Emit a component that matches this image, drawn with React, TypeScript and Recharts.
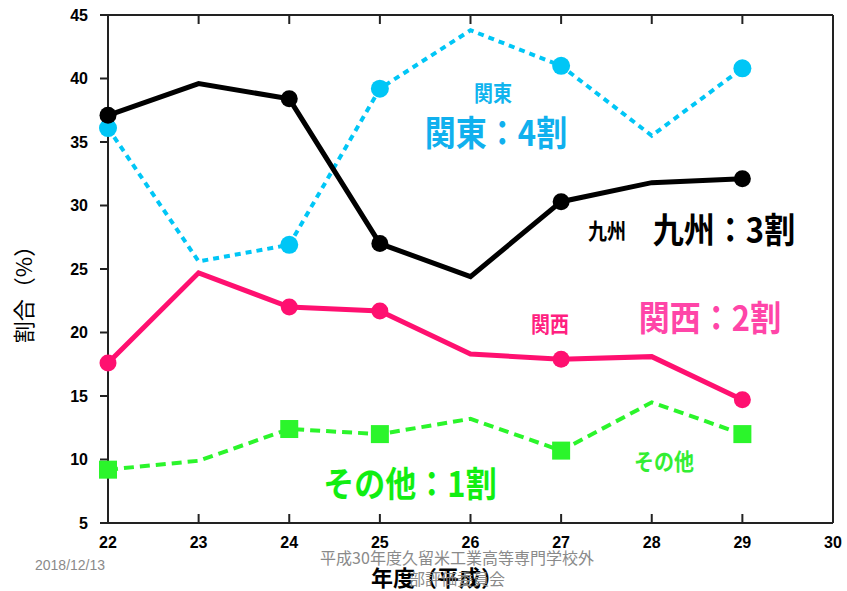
import { LineChart, Line, XAxis, YAxis } from 'recharts';

const years = [22, 23, 24, 25, 26, 27, 28, 29];
const kyushu = [37.1, 39.6, 38.4, 27.0, 24.4, 30.3, 31.8, 32.1];
const kanto = [36.1, 25.6, 26.9, 39.2, 43.8, 41.0, 35.5, 40.8];
const kansai = [17.6, 24.7, 22.0, 21.7, 18.3, 17.9, 18.1, 14.7];
const others = [9.2, 9.9, 12.4, 12.0, 13.2, 10.7, 14.5, 12.0];

// years that carry a marker on every series
const markedYears = [22, 24, 25, 27, 29];
const xTicks = [22, 23, 24, 25, 26, 27, 28, 29, 30];
const yTicks = [5, 10, 15, 20, 25, 30, 35, 40, 45];

const data = years.map((year, i) => ({
  year,
  kyushu: kyushu[i],
  kanto: kanto[i],
  kansai: kansai[i],
  others: others[i],
}));

const tickFont = { fontFamily: '"Liberation Sans", Arial, sans-serif', fontSize: 16, fontWeight: 700, fill: '#000' };
const jp = '"Noto Sans CJK JP", "Noto Sans", sans-serif';
const frame = { stroke: '#222', strokeWidth: 2 };
// tick marks without labels for the frame axes
const noLabel = () => <g />;

const circleDot = (color: string, r: number) => (props: any) => {
  const { cx, cy, payload, index } = props;
  if (!markedYears.includes(payload.year)) return <g key={`d${index}`} />;
  return <circle key={`d${index}`} cx={cx} cy={cy} r={r} fill={color} stroke="none" />;
};

const squareDot = (color: string, s: number) => (props: any) => {
  const { cx, cy, payload, index } = props;
  if (!markedYears.includes(payload.year)) return <g key={`s${index}`} />;
  return <rect key={`s${index}`} x={cx - s / 2} y={cy - s / 2} width={s} height={s} fill={color} />;
};

// annotation centred on (cx, cy), drawn slightly taller than wide
const note = (text: string, cx: number, cy: number, size: number, color: string) => (
  <div
    style={{
      position: 'absolute',
      left: cx,
      top: cy,
      transform: 'translate(-50%, -50%) scaleY(1.14)',
      fontFamily: jp,
      fontSize: size,
      fontWeight: 700,
      color,
      whiteSpace: 'nowrap',
      lineHeight: 1,
    }}
  >
    {text}
  </div>
);

export default function App() {
  return (
    <div style={{ position: 'absolute', left: 0, top: 0, width: 847, height: 591, background: '#fff', overflow: 'hidden' }}>
      <LineChart width={847} height={591} data={data} margin={{ top: 15, right: 14, bottom: 38, left: 0 }}>
        <XAxis
          dataKey="year"
          type="number"
          domain={[22, 30]}
          ticks={xTicks}
          height={30}
          tickLine={false}
          tickSize={6}
          tickMargin={8}
          axisLine={frame}
          tick={tickFont}
        />
        {/* inward ticks along the bottom edge */}
        <XAxis
          xAxisId="bottomInner"
          dataKey="year"
          type="number"
          domain={[22, 30]}
          ticks={xTicks}
          orientation="bottom"
          mirror
          height={1}
          tick={noLabel}
          tickSize={9}
          axisLine={false}
          tickLine={frame}
        />
        <XAxis
          xAxisId="top"
          dataKey="year"
          type="number"
          domain={[22, 30]}
          ticks={xTicks}
          orientation="top"
          mirror
          height={1}
          tick={noLabel}
          tickSize={9}
          axisLine={frame}
          tickLine={frame}
        />
        <YAxis
          type="number"
          domain={[5, 45]}
          ticks={yTicks}
          width={108}
          tickSize={8}
          tickMargin={12}
          axisLine={frame}
          tickLine={frame}
          tick={tickFont}
        />
        <YAxis
          yAxisId="right"
          type="number"
          domain={[5, 45]}
          ticks={yTicks}
          orientation="right"
          mirror
          width={1}
          tick={noLabel}
          tickSize={9}
          axisLine={frame}
          tickLine={frame}
        />
        <Line
          dataKey="kanto"
          stroke="#00C6F6"
          strokeWidth={4}
          strokeDasharray="6 5"
          dot={circleDot('#00C6F6', 9)}
          activeDot={false}
          isAnimationActive={false}
        />
        <Line
          dataKey="kyushu"
          stroke="#000"
          strokeWidth={5}
          dot={circleDot('#000', 8.5)}
          activeDot={false}
          isAnimationActive={false}
        />
        <Line
          dataKey="kansai"
          stroke="#FF1070"
          strokeWidth={5}
          dot={circleDot('#FF1070', 8.5)}
          activeDot={false}
          isAnimationActive={false}
        />
        <Line
          dataKey="others"
          stroke="#2BF52B"
          strokeWidth={4}
          strokeDasharray="10 6"
          dot={squareDot('#2BF52B', 18)}
          activeDot={false}
          isAnimationActive={false}
        />
      </LineChart>

      {note('関東', 493, 91, 19, '#10B4EE')}
      {note('関東：4割', 496, 131, 31, '#10B0EE')}
      {note('九州', 607, 229, 19, '#000')}
      {note('九州：3割', 724, 228, 31, '#000')}
      {note('関西', 550, 322, 19, '#FF2080')}
      {note('関西：2割', 710, 316, 31, '#FF45A8')}
      {note('その他', 664, 461, 20, '#33EE33')}
      {note('その他：1割', 410, 482, 31, '#11EE11')}

      {/* y axis title */}
      <div
        style={{
          position: 'absolute',
          left: 22,
          top: 289,
          transform: 'translate(-50%, -50%) rotate(-90deg)',
          fontFamily: jp,
          fontSize: 22,
          lineHeight: 1,
          color: '#000',
          whiteSpace: 'nowrap',
        }}
      >
        割合（%）
      </div>

      <div style={{ position: 'absolute', left: 35, top: 557, fontFamily: '"Liberation Sans", Arial, sans-serif', fontSize: 14, color: '#8a8a8a' }}>
        2018/12/13
      </div>

      {/* x axis title */}
      <div
        style={{
          position: 'absolute',
          left: 437,
          top: 576,
          transform: 'translate(-50%, -50%)',
          fontFamily: jp,
          fontSize: 22,
          fontWeight: 700,
          lineHeight: 1,
          color: '#000',
          whiteSpace: 'nowrap',
        }}
      >
        年度（平成）
      </div>

      <div
        style={{
          position: 'absolute',
          left: 457,
          top: 547,
          transform: 'translateX(-50%)',
          fontFamily: jp,
          fontSize: 16,
          lineHeight: '21px',
          color: '#8a8a8a',
          textAlign: 'center',
          whiteSpace: 'nowrap',
        }}
      >
        平成30年度久留米工業高等専門学校外
        <br />
        部評価委員会
      </div>
    </div>
  );
}
